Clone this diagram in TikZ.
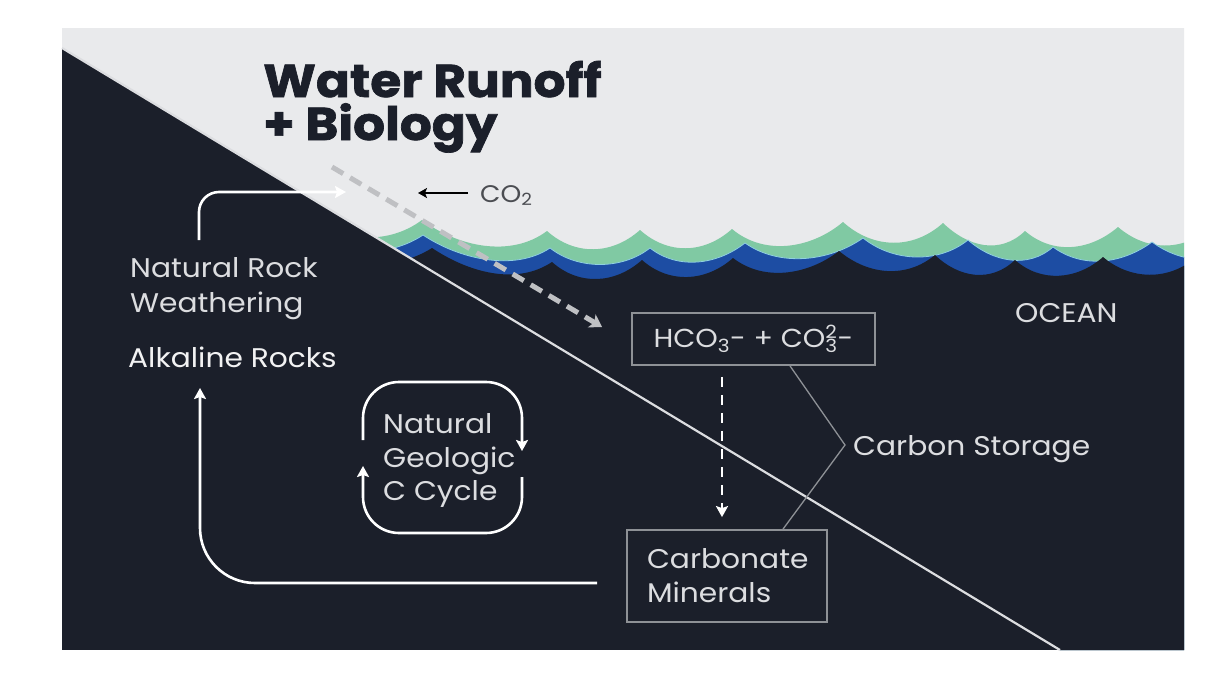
\documentclass[tikz,border=0pt]{standalone}
\usepackage{fontspec}
\setmainfont{Poppins}[FakeStretch=1.1]
\newfontfamily\titlefont{Poppins}[FakeStretch=1.09, BoldFeatures={FakeBold=1.5}]
\usetikzlibrary{arrows.meta,calc}
\definecolor{bgdark}{HTML}{1B1F2A}
\definecolor{sky}{HTML}{E9EAEC}
\definecolor{wgreen}{HTML}{80C9A3}
\definecolor{wblue}{HTML}{1D4DA3}
\definecolor{wedge}{HTML}{8FD0E0}
\definecolor{txtlight}{HTML}{DCDDE0}
\definecolor{txtwhite}{HTML}{F2F2F3}
\definecolor{boxline}{HTML}{8E9196}
\definecolor{dashgrey}{HTML}{BFC0C3}
\definecolor{titlecol}{HTML}{1B1F2A}
\definecolor{co2col}{HTML}{4B4D52}
\tikzset{
  lbl/.style={inner sep=0pt, text=txtlight, font=\fontsize{27}{34}\selectfont},
  title/.style={inner sep=0pt, text=titlecol, font=\titlefont\fontsize{46}{50}\selectfont\bfseries},
  boxnode/.style={draw=boxline, line width=1.8pt, inner sep=0pt, text=txtlight, font=\fontsize{26}{34}\selectfont},
  warrow/.style={draw=white, line width=2.6pt, -{Stealth[length=11pt,width=12pt,inset=2pt]}},
  wdash/.style={draw=white, line width=2.8pt, dash pattern=on 10pt off 8pt, -{Stealth[length=11pt,width=12pt,inset=2pt]}},
  gdash/.style={draw=dashgrey, line width=5pt, dash pattern=on 13pt off 8pt, -{Stealth[length=12pt,width=15pt,inset=3pt]}},
  bracket/.style={draw=boxline, line width=1.3pt},
  diagline/.style={draw=txtlight, line width=2.2pt}
}
\begin{document}
\begin{tikzpicture}[x=1pt,y=-1pt]
\useasboundingbox (0,0) rectangle (1228,680);
\fill[white] (0,0) rectangle (1228,680);
% panel
\fill[bgdark] (62,28) rectangle (1184,650);
\fill[sky] (62,28) -- (1184,28) -- (1184,650) -- (1060,650) -- (62,48) -- cycle;
% waves
\begin{scope}
\clip (62,28) -- (1184,28) -- (1184,650) -- (1060,650) -- (62,48) -- cycle;
\fill[wgreen] (300,214)
  .. controls +(36,27) and +(-36,27) .. (422,220)
  .. controls +(36,27) and +(-36,27) .. (547,231)
  .. controls +(28,25) and +(-28,25) .. (640,230)
  .. controls +(28,25) and +(-28,25) .. (732,229)
  .. controls +(32,27) and +(-32,27) .. (843,222)
  .. controls +(30,27) and +(-30,27) .. (943,223)
  .. controls +(25,24) and +(-25,24) .. (1025,231)
  .. controls +(28,24) and +(-28,24) .. (1118,227)
  .. controls +(28,24) and +(-28,24) .. (1210,228)
  -- (1210,660) -- (300,660) -- cycle;
\fill[wblue, draw=wedge, line width=0.8pt] (300,232)
  .. controls +(36,24) and +(-36,24) .. (423,235)
  .. controls +(36,24) and +(-36,24) .. (550,248)
  .. controls +(28,22) and +(-28,22) .. (650,248)
  .. controls +(28,22) and +(-28,22) .. (745,243)
  .. controls +(34,24) and +(-34,24) .. (863,238)
  .. controls +(30,24) and +(-30,24) .. (968,240)
  .. controls +(25,22) and +(-25,22) .. (1053,247)
  .. controls +(30,22) and +(-30,22) .. (1152,242)
  .. controls +(30,22) and +(-30,22) .. (1250,244)
  -- (1250,660) -- (300,660) -- cycle;
\fill[bgdark] (300,246)
  .. controls +(38,24) and +(-38,24) .. (432,248)
  .. controls +(36,24) and +(-36,24) .. (552,262)
  .. controls +(27,24) and +(-27,24) .. (642,260)
  .. controls +(27,24) and +(-27,24) .. (733,258)
  .. controls +(31,24) and +(-31,24) .. (839,251)
  .. controls +(29,24) and +(-29,24) .. (935,255)
  .. controls +(24,23) and +(-24,23) .. (1015,260)
  .. controls +(26,23) and +(-26,23) .. (1103,257)
  .. controls +(27,23) and +(-27,23) .. (1195,258)
  -- (1195,660) -- (300,660) -- cycle;
\end{scope}
\draw[diagline] (62,48) -- (1060,650);

% title
\node[title, anchor=base west] (t1) at (263,97) {Water Runoff};
\node[title, anchor=base west] (t2) at (263,140) {+ Biology};

% CO2
\node[inner sep=0pt, text=co2col, font=\fontsize{24}{28}\selectfont, anchor=base west] (co2) at (480,202) {CO\textsubscript{2}};
\coordinate (co2tip) at (418,193);
\draw[black, line width=1.6pt, -{Stealth[length=9pt,width=10pt,inset=2pt]}] (co2.west |- co2tip) ++(-12,0) -- (co2tip);

% left labels
\node[lbl, anchor=base west] (nr1) at (130,277) {Natural Rock};
\node[lbl, anchor=base west] (nr2) at (130,312) {Weathering};
\node[lbl, anchor=base west, text=txtwhite] (alk) at (128,367) {Alkaline Rocks};

% boxes
\node[boxnode, minimum width=243pt, minimum height=52pt] (hco) at (753.5,339)
  {HCO\textsubscript{3}- + CO\rlap{\textsuperscript{2}}\textsubscript{3}-};
\node[boxnode, minimum width=200pt, minimum height=92pt, text width=160pt, align=left, inner xsep=20pt, font=\fontsize{27}{34}\selectfont] (carb) at (727,576)
  {Carbonate\\Minerals};

% carbon storage
\node[lbl, anchor=base west] (cs) at (853,455) {Carbon Storage};
\coordinate (csv) at ($(cs.base west)+(-8,-10)$);
\draw[bracket] ($(hco.south)+(36.5,0)$) -- (csv) -- ($(carb.north)+(56,0)$);

% ocean
\node[lbl, anchor=base west] (ocean) at (1015,322) {OCEAN};

% cycle
\node[lbl, anchor=base west] (c1) at (383,433) {Natural};
\node[lbl, anchor=base west] (c2) at (383,467) {Geologic};
\node[lbl, anchor=base west] (c3) at (383,500) {C Cycle};
\draw[warrow, rounded corners=36pt] (363,440) -- (363,382) -- (522,382) -- (522,451);
\draw[warrow, rounded corners=36pt] (522,477) -- (522,533) -- (363,533) -- (363,466);

% arrows
\draw[warrow, rounded corners=20pt] ($(nr1.base west)+(69,-37)$) |- (346,192);
\draw[warrow, rounded corners=55pt] ($(carb.west)+(-29,7)$) -| ($(alk.base west)+(72,21)$);
\draw[wdash] ($(hco.south)+(-31.5,11)$) -- ($(carb.north)+(-5,-12)$);
\draw[gdash] ($(t2.base west)+(69,27)$) -- ($(hco.west)+(-29,-12)$);
\end{tikzpicture}
\end{document}
